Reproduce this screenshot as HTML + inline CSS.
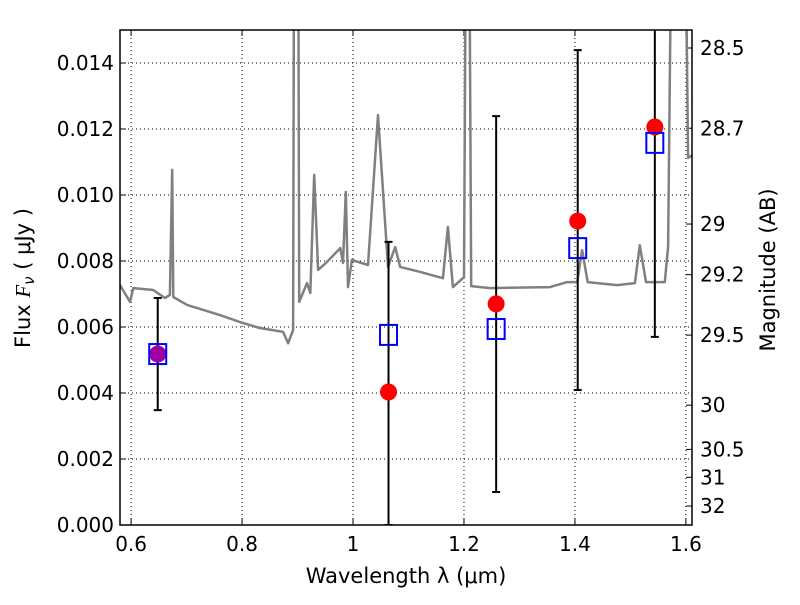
<!DOCTYPE html>
<html><head><meta charset="utf-8"><style>
body{margin:0;background:#fff;font-family:"Liberation Sans","DejaVu Sans",sans-serif}
svg text{font-family:"DejaVu Sans","Liberation Sans",sans-serif;fill:#000}
</style></head><body>
<svg id="c" width="800" height="600" xmlns="http://www.w3.org/2000/svg"></svg>
<script>
const specWave=[0.580,0.598,0.604,0.640,0.661,0.670,0.674,0.676,0.701,0.760,0.796,0.832,0.874,0.883,0.892,0.894,0.901,0.903,0.917,0.923,0.930,0.937,0.953,0.977,0.982,0.987,0.991,0.998,1.027,1.045,1.063,1.076,1.085,1.121,1.162,1.171,1.180,1.200,1.204,1.209,1.213,1.247,1.355,1.386,1.404,1.413,1.423,1.476,1.508,1.517,1.528,1.562,1.568,1.575,1.598,1.604,1.611];
const specFlux=[0.00727,0.00676,0.00718,0.00712,0.00688,0.00697,0.01076,0.00691,0.00667,0.00636,0.00615,0.00597,0.00585,0.00551,0.00591,0.02,0.02,0.00676,0.00733,0.00703,0.01061,0.00773,0.00797,0.00839,0.00794,0.01009,0.00721,0.00803,0.00788,0.01242,0.00782,0.00842,0.00782,0.00767,0.00748,0.00903,0.00721,0.00751,0.02,0.02,0.00724,0.00718,0.00721,0.00736,0.00736,0.00833,0.00736,0.00727,0.00733,0.00848,0.00736,0.00736,0.00842,0.02,0.02,0.01112,0.0112];
const obsWave=[0.648,1.064,1.258,1.405,1.544];
const obsFlux=[0.00518,0.00403,0.0067,0.00921,0.01206];
const modelFlux=[0.00518,0.00576,0.00594,0.00839,0.01158];
const errLow=[0.00348,0.0,0.001,0.00409,0.0057];
const errHigh=[0.00688,0.00858,0.01239,0.01439,0.016];
const xTicks=[0.6,0.8,1.0,1.2,1.4,1.6];
const xTickLabels=["0.6","0.8","1","1.2","1.4","1.6"];
const yTicks=[0,0.002,0.004,0.006,0.008,0.010,0.012,0.014];
const magTicks=[28.5,28.7,29,29.2,29.5,30,30.5,31,32];

const L=120,R=692,T=30,B=525,x0=0.58,x1=1.611,y0=0,y1=0.015;
const X=v=>L+(v-x0)/(x1-x0)*(R-L);
const Y=v=>B-(v-y0)/(y1-y0)*(B-T);
const svg=document.getElementById('c');
const NS='http://www.w3.org/2000/svg';
function mk(tag,at,txt){const e=document.createElementNS(NS,tag);for(const k in at)e.setAttribute(k,at[k]);if(txt!==undefined)e.textContent=txt;svg.appendChild(e);return e;}
const defs=mk('defs',{});
defs.innerHTML='<clipPath id="pc"><rect x="120" y="30" width="572" height="495"/></clipPath>';
xTicks.forEach((t,i)=>{
 const g=mk('line',{x1:X(t),x2:X(t),y1:T,y2:B,stroke:'#000','stroke-width':1,'stroke-dasharray':'1,3'});
 
 const tk=mk('line',{x1:X(t),x2:X(t),y1:B,y2:B-6,stroke:'#000'});
 
 const tk2=mk('line',{x1:X(t),x2:X(t),y1:T,y2:T+6,stroke:'#000'});
 
 const lb=mk('text',{x:X(t),y:B+26,'text-anchor':'middle','font-size':20},xTickLabels[i]);
 
});
yTicks.forEach(t=>{
 const g=mk('line',{x1:L,x2:R,y1:Y(t),y2:Y(t),stroke:'#000','stroke-width':1,'stroke-dasharray':'1,3'});
 
 const tk=mk('line',{x1:L,x2:L+6,y1:Y(t),y2:Y(t),stroke:'#000'});
 
 const lb=mk('text',{x:L-6,y:Y(t)+7,'text-anchor':'end','font-size':20},t.toFixed(3));
 
});
magTicks.forEach(m=>{
 const f=Math.pow(10,(23.9-m)/2.5);
 const tk=mk('line',{x1:R,x2:R-6,y1:Y(f),y2:Y(f),stroke:'#000'});
 
 const lb=mk('text',{x:R+8,y:Y(f)+7,'font-size':20},String(m));
 
});
const pts=specWave.map((w,i)=>X(w).toFixed(1)+','+Y(specFlux[i]).toFixed(1)).join(' ');
const sp=mk('polyline',{points:pts,fill:'none',stroke:'#808080','stroke-width':2.5,'clip-path':'url(#pc)','stroke-linejoin':'round'});

obsWave.forEach((w,i)=>{
 const e=mk('line',{x1:X(w),x2:X(w),y1:Y(errLow[i]),y2:Y(errHigh[i]),stroke:'#000','stroke-width':2,'clip-path':'url(#pc)'});
 
 [errLow[i],errHigh[i]].forEach(v=>{
  const c=mk('line',{x1:X(w)-4,x2:X(w)+4,y1:Y(v),y2:Y(v),stroke:'#000','stroke-width':2,'clip-path':'url(#pc)'});
  
 });
});
obsWave.forEach((w,i)=>{
 const c=mk('circle',{cx:X(w),cy:Y(obsFlux[i]),r:8.5,fill:i===0?'#a000a0':'#ff0000'});
 
 const s=mk('rect',{x:X(w)-8.5,y:Y(modelFlux[i])-10,width:17,height:20,fill:'none',stroke:'#0000ff','stroke-width':2});
 
});
const fr=mk('rect',{x:L,y:T,width:R-L,height:B-T,fill:'none',stroke:'#000','stroke-width':1.5});

const xl=mk('text',{x:406,y:583,'text-anchor':'middle','font-size':21},'Wavelength  λ (μm)');

const yl=mk('text',{x:30,y:278,'text-anchor':'middle','font-size':21,transform:'rotate(-90 30 278)'});
yl.innerHTML='Flux  <tspan font-style="italic" font-family="Liberation Serif, serif">F</tspan><tspan font-style="italic" font-size="15" dy="4">ν</tspan><tspan dy="-4">  ( μJy )</tspan>';

const ml=mk('text',{x:775,y:270,'text-anchor':'middle','font-size':21,transform:'rotate(-90 775 270)'},'Magnitude (AB)');

</script>
</body></html>
